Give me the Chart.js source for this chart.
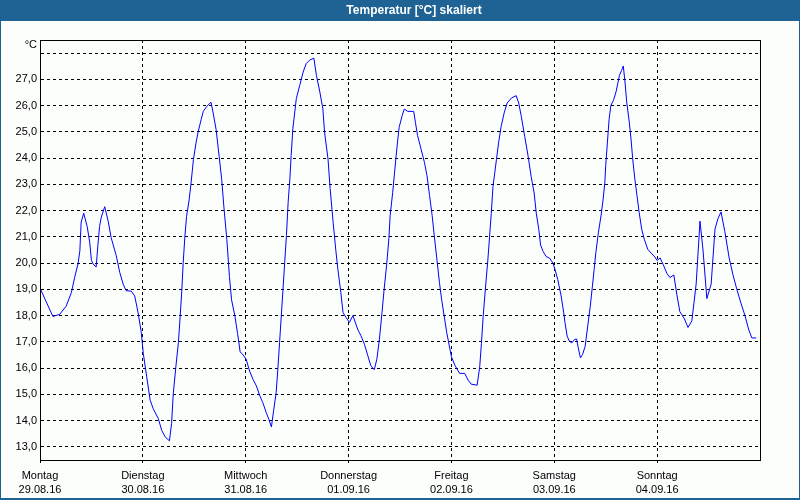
<!DOCTYPE html>
<html>
<head>
<meta charset="utf-8">
<script src="https://cdn.jsdelivr.net/npm/chart.js@4"></script>
<style>
body{margin:0;background:#fcfefc;}
#wrap{position:relative;width:800px;height:500px;}
</style>
</head>
<body>
<div id="wrap"><canvas id="c" width="800" height="500"></canvas></div>
<script>
/* Stunden seit Montag 00:00 */
let hours=[
0,3.0,4.6,6.1,7.3,8.1,8.9,9.3,9.6,10.2,11.0,11.6,12.0,12.4,13.1,13.5,13.9,14.3,15.1,15.9,16.6,17.8,18.6,19.4,20.1,21.3,22.1,22.9,23.6,
24.1,24.9,25.7,26.4,27.6,28.4,29.2,30.2,30.7,31.1,31.7,32.3,32.7,33.1,33.4,33.8,34.2,34.8,35.2,35.8,36.4,36.9,37.6,38.1,38.9,39.9,40.4,41.1,41.8,42.4,42.9,43.6,44.2,44.7,45.5,46.1,46.7,
47.4,48.1,48.9,49.7,50.5,51.3,52.0,52.8,53.4,54.0,54.5,55.1,55.5,55.9,56.3,56.7,57.1,57.5,57.9,58.3,58.6,59.0,59.8,60.6,61.4,62.1,62.9,63.9,64.5,65.3,66.0,66.4,67.2,67.7,68.4,69.0,69.5,70.2,70.7,
71.4,72.2,73.0,73.3,74.1,74.9,75.7,76.5,77.2,78.0,78.6,79.2,79.8,80.3,80.9,81.4,81.7,82.3,82.7,83.1,83.5,83.8,84.5,85.0,85.8,87.2,87.6,88.1,88.9,89.7,90.3,90.9,91.5,92.0,92.6,93.2,93.7,94.3,94.9,
95.5,96.0,96.8,97.9,99.1,99.9,100.6,102.0,102.6,103.0,103.4,103.9,104.5,104.9,105.3,105.7,106.1,106.5,107.0,107.6,108.3,109.0,110.0,111.1,111.7,112.3,113.1,113.9,114.6,115.3,115.8,116.4,116.8,117.4,118.1,118.9,119.7,120.2,
120.8,121.6,122.2,122.5,123.0,123.5,124.1,124.7,125.2,125.6,126.1,126.6,127.2,127.8,128.4,128.9,129.3,129.7,130.3,130.9,131.4,131.8,132.0,132.4,132.8,133.2,133.8,134.4,134.8,135.2,135.7,136.1,136.5,136.9,137.5,137.9,138.3,138.8,139.3,139.8,140.4,141.0,141.8,142.6,143.3,
144.0,144.7,145.4,146.3,147.0,147.9,148.6,149.3,150.3,151.2,152.1,153.1,154.0,154.7,155.6,156.6,157.5,158.2,158.9,159.8,160.8,161.7,162.6,163.6,164.5,165.4,166.1,167.1
];
let temps=[
19.05,17.97,18.05,18.36,18.87,19.46,20.0,20.47,21.56,21.9,21.4,20.8,20.1,19.97,19.85,20.66,21.4,21.75,22.15,21.6,20.97,20.28,19.65,19.2,18.95,18.93,18.75,18.1,17.4,
16.56,15.67,14.78,14.46,14.08,13.63,13.38,13.23,13.89,15.03,16.05,16.98,17.96,18.98,19.99,21.0,21.78,22.41,22.98,23.94,24.58,25.0,25.47,25.78,25.97,26.13,25.72,25.08,24.07,23.18,22.16,20.89,19.49,18.6,17.96,17.32,16.62,
16.5,16.34,15.89,15.57,15.32,14.94,14.68,14.3,14.05,13.76,14.37,15.07,15.96,16.97,17.99,19.01,20.03,21.05,22.32,23.2,24.1,25.12,26.26,26.77,27.28,27.6,27.73,27.81,27.15,26.52,25.88,24.99,23.97,22.83,21.55,20.53,19.77,18.88,18.12,
17.93,17.74,18.0,17.87,17.49,17.23,16.91,16.47,16.09,15.94,16.34,17.11,18.12,19.01,19.96,20.92,21.81,22.7,23.4,24.09,24.73,25.17,25.62,25.87,25.78,25.78,25.36,24.86,24.35,23.84,23.33,22.57,21.81,21.04,20.16,19.27,18.63,17.99,17.36,
16.85,16.43,16.11,15.8,15.8,15.54,15.39,15.35,16.05,16.94,17.96,18.98,20.12,21.01,21.9,22.92,23.43,23.94,24.58,25.21,25.72,26.1,26.29,26.38,26.1,25.59,24.83,24.07,23.3,22.67,21.9,21.27,20.69,20.44,20.25,20.19,20.0,19.74,
19.38,18.75,18.11,17.73,17.22,17.03,16.96,17.09,17.11,16.77,16.39,16.52,16.83,17.6,18.36,19.13,19.76,20.4,21.17,21.8,22.44,23.08,23.71,24.61,25.5,26.0,26.2,26.52,26.83,27.15,27.34,27.51,26.9,26.13,25.37,24.73,23.97,23.2,22.57,21.93,21.29,20.91,20.53,20.38,20.27,
20.1,20.2,19.95,19.6,19.45,19.55,18.8,18.15,17.9,17.55,17.8,19.2,21.6,20.5,18.65,19.2,21.3,21.7,21.95,21.2,20.2,19.55,19.0,18.45,18.0,17.45,17.15,17.15
];
let dayTicks=[0,24,48,72,96,120,144];
let dayNames=["Montag","Dienstag","Mittwoch","Donnerstag","Freitag","Samstag","Sonntag"];
let dayDates=["29.08.16","30.08.16","31.08.16","01.09.16","02.09.16","03.09.16","04.09.16"];
let yTicks=[13,14,15,16,17,18,19,20,21,22,23,24,25,26,27,28];

let FONT="'Liberation Sans', Arial, sans-serif";

/* Fensterrahmen, Titelleiste, Rahmen ums Diagramm */
let frame={
id:"frame",
beforeDraw(ch){
let c=ch.ctx;
c.save();
c.fillStyle="#fcfefc";
c.fillRect(0,0,800,500);
c.restore();
},
afterDraw(ch){
let c=ch.ctx, a=ch.chartArea;
c.save();
c.fillStyle="#1e6394";
c.fillRect(0,0,800,21);
c.fillRect(0,0,1,500);
c.fillRect(799,0,1,500);
c.fillRect(0,498,800,2);
c.fillStyle="#ffffff";
c.font="bold 12px "+FONT;
c.textAlign="center";
c.textBaseline="middle";
c.fillText("Temperatur [°C] skaliert",414,11);
c.strokeStyle="#000";
c.lineWidth=1;
c.strokeRect(Math.round(a.left)+0.5,Math.round(a.top)+0.5,Math.round(a.right-a.left),Math.round(a.bottom-a.top));
c.fillStyle="#000";
c.font="11px "+FONT;
c.textAlign="right";
c.fillText("°C",37,45);
c.restore();
}
};

new Chart(document.getElementById("c"),{
type:"line",
data:{
datasets:[{
data:hours.map((h,i)=>({x:h,y:temps[i]})),
borderColor:"#0000ff",
borderWidth:1,
pointRadius:0,
tension:0,
fill:false
}]
},
options:{
responsive:false,
animation:false,
events:[],
layout:{padding:{left:0,top:40,right:40,bottom:0}},
plugins:{legend:{display:false},tooltip:{enabled:false},title:{display:false}},
scales:{
x:{
type:"linear",
min:0,max:168,
afterBuildTicks:s=>{s.ticks=dayTicks.map(v=>({value:v}));},
afterFit:s=>{s.height=40;},
grid:{color:"#000",lineWidth:1,tickLength:3,tickBorderDash:[]},
border:{color:"#000",dash:[3,3]},
ticks:{
color:"#000",
font:{family:FONT,size:11,lineHeight:1.27},
padding:6,
maxRotation:0,
autoSkip:false,
callback:(v,i)=>[dayNames[i],dayDates[i]]
}
},
y:{
min:12.5,max:28.5,
afterBuildTicks:s=>{s.ticks=yTicks.map(v=>({value:v}));},
afterFit:s=>{s.width=40;},
grid:{color:"#000",lineWidth:1,tickLength:0,drawTicks:false},
border:{color:"#000",dash:[3,3]},
ticks:{
color:"#000",
font:{family:FONT,size:11},
padding:3,
callback:v=>v==28?"":v.toFixed(1).replace(".",",")
}
}
}
},
plugins:[frame]
});
</script>
</body>
</html>
